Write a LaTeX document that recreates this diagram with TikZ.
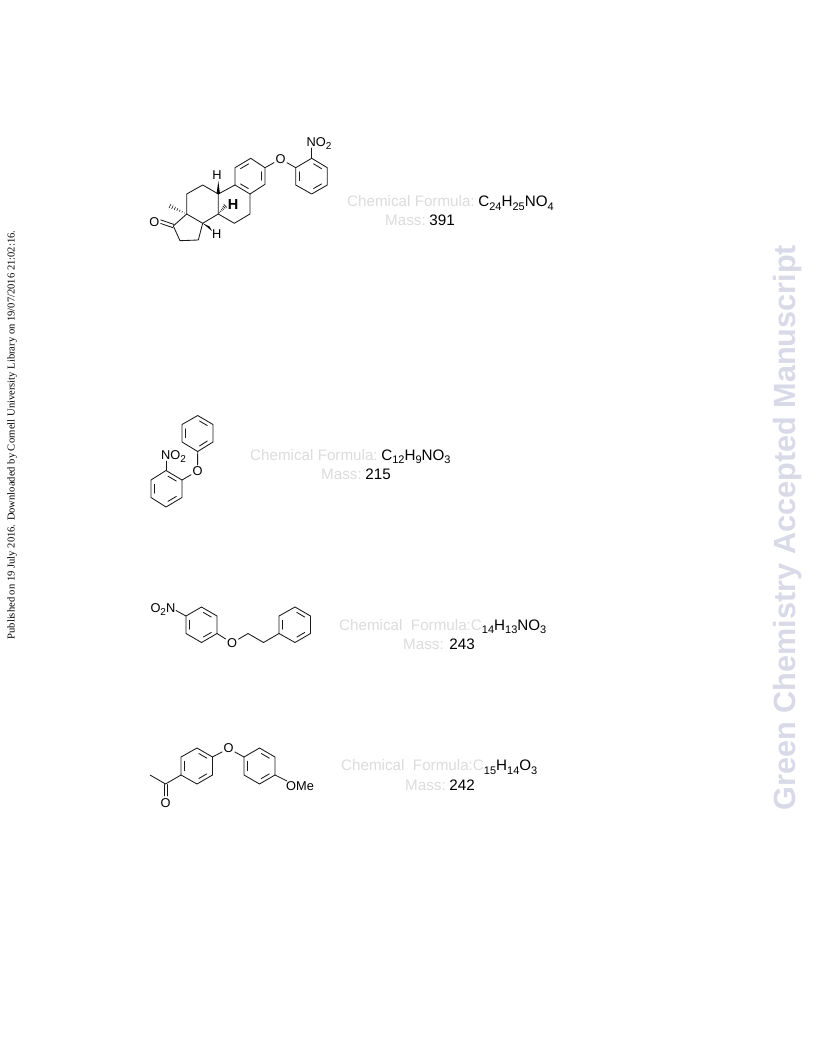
\documentclass[tikz,border=0pt]{standalone}
\usepackage{fontspec}
\setmainfont{Liberation Sans}
\newfontfamily\serifface{Liberation Serif}
\usetikzlibrary{calc}
\definecolor{palegrey}{HTML}{DCDCDC}
\definecolor{bondgrey}{HTML}{1A1A1A}
\definecolor{wm}{HTML}{D9D9E8}
\tikzset{
  x=1pt,y=-1pt,
  bond/.style={draw=bondgrey,line width=0.85pt,line cap=round,line join=round},
  atomlabel/.style={font=\fontsize{12.8}{13}\selectfont,inner sep=1.2pt,text=black},
  caption/.style={font=\fontsize{15.2}{15.2}\selectfont,anchor=base west,inner sep=0pt},
  wedge/.style={fill=black,draw=none},
}
\newcommand{\pale}[1]{\textcolor{palegrey}{#1}}
\newcommand{\tightgap}{\hspace{-2pt}}
\newcommand{\sbs}[1]{\raisebox{-0.25em}{\fontsize{11}{11}\selectfont #1}}
\newcommand{\asbs}[1]{\raisebox{-0.25em}{\fontsize{10}{10}\selectfont #1}}
\newcommand{\ringbonds}[6]{%
  \draw[bond] (#1)--(#2)--(#3)--(#4)--(#5)--(#6)--cycle;
  \draw[bond] ($(#1)!0.14!(#4)!0.12!(#2)$) -- ($(#2)!0.14!(#5)!0.12!(#1)$);
  \draw[bond] ($(#3)!0.14!(#6)!0.12!(#4)$) -- ($(#4)!0.14!(#1)!0.12!(#3)$);
  \draw[bond] ($(#5)!0.14!(#2)!0.12!(#6)$) -- ($(#6)!0.14!(#3)!0.12!(#5)$);
}
\begin{document}
\begin{tikzpicture}
\useasboundingbox (0,0) rectangle (816,1056);
\fill[white] (0,0) rectangle (816,1056);

% margins
\node[rotate=90,font=\serifface\fontsize{10.58}{11}\selectfont,inner sep=0pt] (pub) at (12,435) {Published on 19 July 2016. Downloaded by Cornell University Library on 19/07/2016 21:02:16.};
\node[rotate=90,font=\bfseries\fontsize{30.65}{31}\selectfont,text=wm,inner sep=0pt] (wmk) at (788,527.5) {Green Chemistry Accepted Manuscript};

% ---------- molecule 1
\coordinate (a1) at (250.7,158.3); \coordinate (a2) at (265,167.7); \coordinate (a3) at (265,184.3);
\coordinate (a4) at (250,194); \coordinate (a5) at (235,185); \coordinate (a6) at (235,167.7);
\ringbonds{a6}{a1}{a2}{a3}{a4}{a5}
\node[atomlabel] (o1) at (280.5,159) {O};
\coordinate (b1) at (295.7,167.7); \coordinate (b2) at (311.7,158.3); \coordinate (b3) at (327.3,167.7);
\coordinate (b4) at (327.3,185); \coordinate (b5) at (311.7,194); \coordinate (b6) at (295.7,185);
\draw[bond] (a2)--(o1)--(b1);
\ringbonds{b2}{b3}{b4}{b5}{b6}{b1}
\node[atomlabel,anchor=base west,inner sep=0pt] (no1) at (306.5,146.5) {NO\asbs{2}};
\draw[bond] (b2)--(311.7,148);
\coordinate (c1) at (250,214); \coordinate (c2) at (234.3,223.3); \coordinate (c3) at (218.3,214); \coordinate (c4) at (218.3,194);
\coordinate (d1) at (202.7,185); \coordinate (d2) at (186.7,194); \coordinate (d3) at (186.7,214); \coordinate (d4) at (202.7,223.3);
\coordinate (e1) at (198.3,240); \coordinate (e2) at (180,240.7); \coordinate (e3) at (173.3,226);
\draw[bond] (a4)--(c1)--(c2)--(c3)--(c4)--(a5);
\draw[bond] (c4)--(d1)--(d2)--(d3)--(d4)--(c3);
\draw[bond] (d4)--(e1)--(e2)--(e3)--(d3);
\node[atomlabel] (o2) at (154.3,221.7) {O};
\draw[bond] ($(e3)+(0.6,-1.6)$)--($(o2.east)+(0,-1.8)$);
\draw[bond] ($(e3)+(-0.6,1.6)$)--($(o2.east)+(0,1.8)$);
\node[atomlabel] (h1) at (217,175) {H};
\fill[wedge] (216.6,194) -- (220,194) -- (218.3,181) -- cycle;
\node[atomlabel,font=\bfseries\fontsize{14.5}{14.5}\selectfont] (h2) at (233,204.5) {H};
\foreach \t in {0.15,0.3,...,0.95}{\draw[bond,line width=0.6pt] ($(c3)!\t!(226,205)+({-\t*1.6},{-\t*1.6})$)--($(c3)!\t!(226,205)+({\t*1.6},{\t*1.6})$);}
\node[atomlabel] (h3) at (216.7,234) {H};
\fill[wedge] (d4) -- (212,231) -- (209.5,226.5) -- cycle;
\foreach \t in {0.12,0.26,...,1}{\draw[bond,line width=0.6pt] ($(d3)!\t!(169.3,205.7)+({-\t*0.9},{\t*1.9})$)--($(d3)!\t!(169.3,205.7)+({\t*0.9},{-\t*1.9})$);}

\node[caption] (f1) at (347,207) {\pale{Chemical Formula: }\tightgap C\sbs{24}H\sbs{25}NO\sbs{4}};
\node[caption] (m1) at (385,226) {\pale{Mass: }\tightgap 391};

% ---------- molecule 2
\coordinate (p1) at (197.7,415.5); \coordinate (p2) at (213,424.5); \coordinate (p3) at (213,442);
\coordinate (p4) at (197.7,451.5); \coordinate (p5) at (182,442); \coordinate (p6) at (182,424.5);
\ringbonds{p1}{p2}{p3}{p4}{p5}{p6}
\node[atomlabel] (o3) at (197.5,471) {O};
\coordinate (q1) at (166,470.5); \coordinate (q2) at (182,480); \coordinate (q3) at (182,497.5);
\coordinate (q4) at (166,507); \coordinate (q5) at (151,497.5); \coordinate (q6) at (151,480);
\draw[bond] (p4)--(o3)--(q2);
\ringbonds{q1}{q2}{q3}{q4}{q5}{q6}
\node[atomlabel,anchor=base west,inner sep=0pt] (no2) at (161,459.5) {NO\asbs{2}};
\draw[bond] (q1)--(166,461);
\node[caption] (f2) at (250,460) {\pale{Chemical Formula: }\tightgap C\sbs{12}H\sbs{9}NO\sbs{3}};
\node[caption] (m2) at (321,479.5) {\pale{Mass: }\tightgap 215};

% ---------- molecule 3
\coordinate (r1) at (201.5,607); \coordinate (r2) at (217,616); \coordinate (r3) at (217,633.5);
\coordinate (r4) at (201.5,642.5); \coordinate (r5) at (186,633.5); \coordinate (r6) at (186,616);
\ringbonds{r1}{r2}{r3}{r4}{r5}{r6}
\node[atomlabel,anchor=base east,inner sep=0pt] (no3) at (175.5,612.5) {O\asbs{2}N};
\draw[bond] (r6)--(176,610.5);
\node[atomlabel] (o4) at (232,643) {O};
\coordinate (s1) at (248,633.5); \coordinate (s2) at (263.5,642.5);
\coordinate (t1) at (279,616); \coordinate (t2) at (295,607); \coordinate (t3) at (310.5,616);
\coordinate (t4) at (310.5,633.5); \coordinate (t5) at (295,642.5); \coordinate (t6) at (279,633.5);
\draw[bond] (r3)--(o4)--(s1)--(s2)--(t6);
\ringbonds{t2}{t3}{t4}{t5}{t6}{t1}
\node[caption] (f3) at (339,630) {\pale{Chemical\ \ Formula:C}\sbs{14}H\sbs{13}NO\sbs{3}};
\node[caption] (m3) at (403,649) {\pale{Mass: }243};

% ---------- molecule 4
\coordinate (u1) at (197,748); \coordinate (u2) at (212.5,757); \coordinate (u3) at (212.5,775);
\coordinate (u4) at (197,784); \coordinate (u5) at (181,775); \coordinate (u6) at (181,757);
\ringbonds{u1}{u2}{u3}{u4}{u5}{u6}
\node[atomlabel] (o5) at (228.5,748.5) {O};
\coordinate (v1) at (244,757); \coordinate (v2) at (259.5,748); \coordinate (v3) at (275,757);
\coordinate (v4) at (275,775); \coordinate (v5) at (259.5,784); \coordinate (v6) at (244,775);
\draw[bond] (u2)--(o5)--(v1);
\ringbonds{v2}{v3}{v4}{v5}{v6}{v1}
\node[atomlabel,anchor=base west,inner sep=0pt] (ome) at (286,790) {OMe};
\draw[bond] (v4)--(287,781);
\coordinate (w1) at (165.5,784); \coordinate (w2) at (150,775);
\draw[bond] (u5)--(w1)--(w2);
\node[atomlabel] (o6) at (165.5,803) {O};
\draw[bond] (164,784.5)--(164,796);
\draw[bond] (167,784.5)--(167,796);
\node[caption] (f4) at (341,770.5) {\pale{Chemical\ \ Formula:C}\sbs{15}H\sbs{14}O\sbs{3}};
\node[caption] (m4) at (405,790) {\pale{Mass: }\tightgap 242};
\end{tikzpicture}
\end{document}
